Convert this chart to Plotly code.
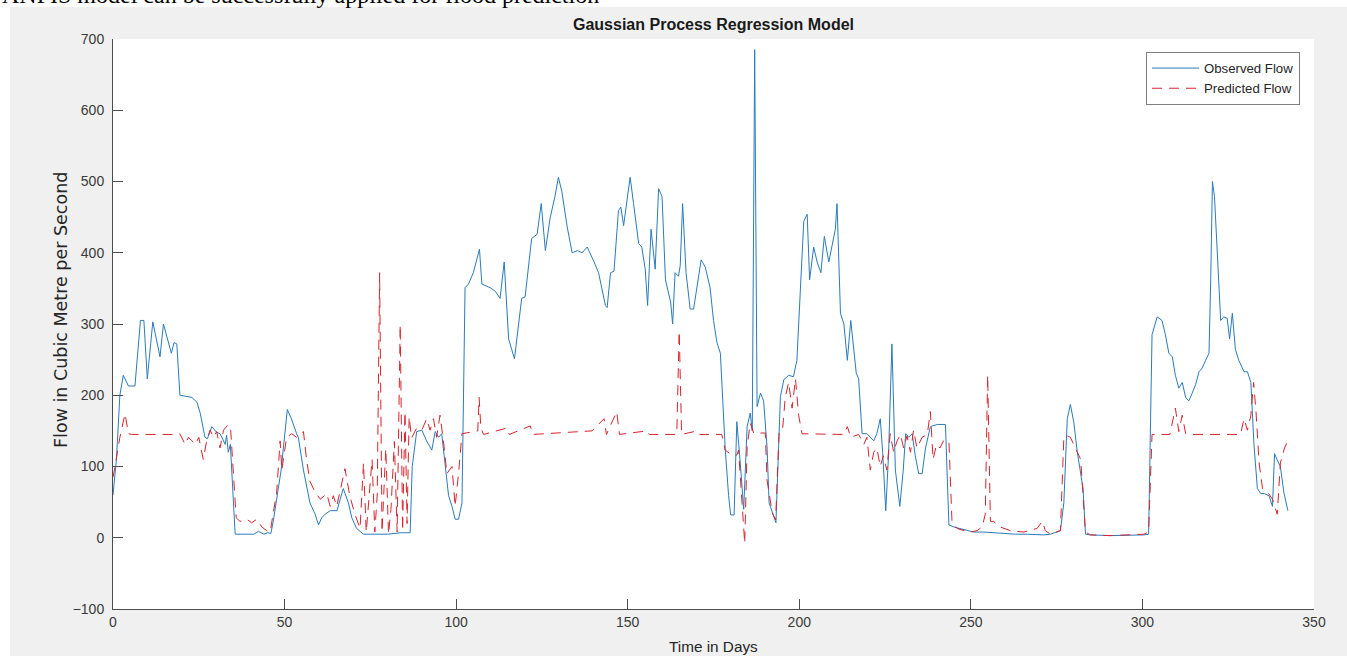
import plotly.graph_objects as go

# ---------------- data ----------------
obs_days = [0, 1, 2, 3, 4.5, 6.4, 8, 9, 10, 11.6, 13.7, 14.7, 17, 17.8, 18.6, 19.5, 23, 24.5,
            25.4, 26.8, 27.5, 28.8, 30.2, 31.2, 32.7, 33.1, 33.6, 34.2, 35.6, 41, 42.4, 44, 45,
            46, 46.7, 48.2, 49, 50.8, 52, 53.5, 54, 55.5, 57.4, 58.9, 59.9, 60.8, 61.8, 63.3,
            65.3, 66.2, 67.1, 68.6, 69.6, 71, 73, 80, 84, 86.6, 87.2, 88.5, 90, 91.4, 92.9,
            93.9, 94.9, 95.8, 96.8, 97.8, 98.8, 99.7, 100.7, 101.7, 102.6, 103.6, 105, 106.8,
            107.5, 109.9, 111.4, 112.8, 114, 115.3, 117, 118.2, 119.1, 120.1, 122, 123.6, 124.8,
            126, 127.4, 128.8, 129.8, 130.8, 132.3, 133.8, 135.3, 136.7, 138.2, 140.2, 141.5,
            143.5, 144, 145, 146, 147.3, 148, 148.8, 150.7, 151.7, 153.2, 154.1, 155.1, 155.8,
            156.8, 158, 159, 160, 161, 162.5, 163.1, 163.8, 164.8, 165.3, 166, 167, 168.2,
            169.2, 170.2, 171.4, 172.6, 174, 175, 176, 177, 177.8, 178.4, 179.4, 180, 181,
            181.8, 182.8, 183.8, 184.8, 185.7, 186.3, 187, 187.7, 188.7, 189.6, 190.6, 191.2,
            192.6, 193.2, 194.5, 195.5, 196.9, 198.3, 199.3, 200.3, 201.3, 202.3, 203, 204.2,
            205.2, 206.3, 207.3, 208.6, 209.6, 210.5, 211, 212, 213, 214, 215, 216, 216.6,
            217.3, 218.3, 219.7, 220.7, 221.7, 222.6, 223.6, 224.3, 225.2, 226, 227, 228,
            229.3, 230.3, 231, 231.9, 232.9, 233.8, 234.8, 235.8, 236.8, 238.2, 240.2, 242.6,
            243.6, 245.1, 247, 249, 250.8, 253.7, 256.6, 263, 266.4, 271.2, 273.2, 276.1,
            277.1, 278.1, 279, 280, 281, 282, 282.7, 283.4, 284.8, 290.6, 295.5, 300.4, 301.8,
            302.8, 304.3, 305.7, 306.7, 307.7, 308.7, 309.6, 310.6, 311.6, 312.6, 313.5, 314.5,
            315.5, 316.5, 317.4, 318.4, 319.4, 319.9, 320.4, 321, 321.8, 322.8, 323.7, 324.7,
            325.4, 326.2, 327.1, 328.1, 329.6, 330.6, 331.6, 332.5, 333.5, 334.5, 335.5, 336.9,
            337.9, 338.5, 339.2, 340.2, 341.2, 342.4]
obs_flow = [60, 110, 200, 228, 213, 213, 305, 305, 223, 303, 254, 300, 259, 274, 272, 200, 197, 190,
            175, 141, 139, 156, 148, 146, 131, 144, 120, 131, 5, 5, 9, 5, 7,
            6, 23, 69, 95, 180, 167, 146, 141, 95, 49, 33, 18, 28, 33, 38,
            38, 54, 69, 49, 28, 13, 5, 5, 7, 7, 100, 149, 151, 136, 123,
            149, 141, 146, 105, 59, 44, 26, 26, 49, 351, 356, 372, 405,
            356, 351, 346, 336, 387, 279, 251, 295, 336, 338, 420, 426, 469,
            403, 449, 479, 506, 486, 438, 400, 403, 400, 408, 387, 372,
            326, 323, 372, 374, 459, 464, 438, 506, 469, 413, 408, 377, 326,
            433, 377, 490, 479, 362, 331, 300, 372, 367, 382, 469, 372, 321,
            321, 351, 390, 380, 351, 305, 274, 259, 172, 126, 59, 32, 32,
            163, 105, 40, 156, 175, 150, 685, 184, 203, 192, 128, 49,
            29, 21, 198, 222, 228, 226, 249, 351, 444, 454, 362, 408,
            387, 372, 423, 387, 413, 433, 469, 315, 300, 249, 305, 259, 231,
            223, 146, 146, 141, 136, 146, 167, 120, 38, 115, 272, 95,
            44, 95, 146, 141, 146, 115, 90, 90, 126, 156, 159, 159,
            18, 15, 13, 10, 8, 8, 7, 5, 5, 4, 5, 10,
            49, 167, 187, 162, 121, 90, 69, 5, 4, 3, 3, 4, 5,
            285, 310, 305, 285, 259, 254, 228, 210, 218, 197, 192, 203,
            215, 233, 238, 249, 259, 362, 500, 479, 392, 305, 310, 308,
            279, 315, 264, 249, 233, 233, 218, 131, 69, 62, 62, 59,
            44, 118, 110, 100, 64, 38]

pred_days = [0, 0.6, 2, 3.5, 4.5, 5.5, 18.6, 19.5, 21, 22, 23, 24, 25, 26.3, 27.3, 28.3, 29.3,
             30.2, 31.2, 32.2, 33.6, 34.3, 35.9, 37, 39, 40.4, 41.9, 43.4, 44.8, 45.8, 47.7,
             48.7, 49.2, 50.6, 52.1, 53.5, 55.5, 56.4, 57.4, 58.9, 60.4, 62.3, 63.3, 64.2,
             65.2, 67.6, 69, 70.5, 72, 73, 73.8, 75.5, 76.3, 77, 77.7, 78.4, 79.5, 80.3, 81,
             82, 82.8, 83.7, 84.4, 85.1, 85.7, 86.3, 87, 87.6, 88.5, 90, 91.4, 92.4, 93.4,
             94.3, 95.3, 96.3, 97.3, 98.8, 99.7, 100.7, 101.7, 106.3, 106.7, 107.2, 108,
             114.8, 115.5, 121.6, 122.3, 139.6, 143.1, 143.8, 146.8, 147.6, 155.6, 156.3,
             164.3, 165, 165.7, 170.3, 171, 177.4, 178.4, 180.4, 181.8, 182.3, 183.3, 184.1,
             184.8, 185.7, 186.7, 190.1, 190.6, 192.1, 193.1, 194.1, 195.1, 195.9, 196.9,
             197.9, 198.9, 199.8, 200.8, 213, 214, 215, 217.3, 218.8, 219.7, 220.7, 221.7,
             222.6, 223.6, 224.5, 225.5, 226.5, 227.5, 228.5, 229.5, 230.4, 231.4, 232.4,
             233.3, 234.3, 235.8, 237.3, 238.2, 239, 240, 241, 242, 243.6, 244.5, 246, 248,
             249.9, 251.8, 253.3, 254.2, 254.9, 255.7, 256.6, 258.6, 261.5, 265.4, 269.3,
             270.8, 271.7, 273.2, 276.1, 277.1, 278.1, 279, 280.5, 282, 283.4, 284.8, 290.6,
             300.4, 301.8, 302.8, 308, 309.6, 310.6, 311.6, 312.6, 314.1, 328.6, 329.6,
             330.6, 331.6, 332.4, 333.1, 334, 335, 336.5, 337.9, 339.3, 340.2, 341.4, 342.4]
pred_flow = [85, 100, 141, 174, 146, 145, 145, 146, 131, 141, 136, 131, 141, 110, 136, 151, 141,
             149, 126, 151, 159, 151, 28, 23, 26, 21, 26, 15, 10, 8, 64,
             136, 95, 141, 146, 141, 149, 110, 79, 64, 54, 62, 44, 59,
             44, 97, 59, 33, 13, 105, 8, 110, 8, 60, 372, 8, 125, 5, 40,
             135, 8, 299, 10, 177, 20, 170, 140, 146, 154, 151, 167, 151, 167,
             141, 172, 136, 90, 100, 44, 90, 146, 150, 197, 154, 145,
             154, 145, 157, 145, 150, 167, 145, 177, 145, 150, 145,
             145, 290, 145, 150, 145, 145, 123, 116, 116, 123, 58, -8,
             128, 161, 147, 147, 81, 35, 25, 147, 150, 197, 218,
             182, 223, 172, 146, 145, 156, 141, 145, 131, 141, 95, 120,
             126, 100, 115, 95, 146, 120, 136, 145, 126, 143, 120,
             151, 126, 141, 145, 177, 110, 131, 126, 136, 136, 23, 13, 10,
             8, 10, 15, 33, 228, 23, 23, 15, 10, 8, 13,
             23, 10, 5, 10, 141, 143, 141, 126, 110, 8, 4, 3,
             5, 8, 145, 145, 182, 149, 172, 146, 145, 145, 167,
             151, 172, 218, 177, 105, 69, 64, 54, 33, 105, 126, 136]

x_ticks = [0, 50, 100, 150, 200, 250, 300, 350]
y_ticks = [-100, 0, 100, 200, 300, 400, 500, 600, 700]

title_text = "Gaussian Process Regression Model"
x_label = "Time in Days"
y_label = "Flow in Cubic Metre per Second"
page_text = "ANFIS model can be successfully applied for flood prediction"

# ---------------- figure ----------------
W, H = 1347, 656
L, R, T, B = 113, 33, 39, 47
PW, PH = W - L - R, H - T - B


def px_x(p):
    return (p - L) / PW


def px_y(p):
    return (H - B - p) / PH


AX = "#4d4d4d"
TXT = "#262626"
FONT = "Liberation Sans, Arial, sans-serif"

fig = go.Figure()
fig.add_trace(go.Scatter(x=obs_days, y=obs_flow, mode="lines", name="Observed Flow",
                         line=dict(color="#2b7bba", width=1)))
fig.add_trace(go.Scatter(x=pred_days, y=pred_flow, mode="lines", name="Predicted Flow",
                         line=dict(color="rgb(215,35,45)", width=1, dash="10px,7px")))

fig.update_layout(
    width=W, height=H, autosize=False,
    margin=dict(l=L, r=R, t=T, b=B, pad=0),
    paper_bgcolor="#f0f0f0", plot_bgcolor="white",
    font=dict(family=FONT, size=13, color=TXT),
    showlegend=True,
    legend=dict(x=px_x(1300), xanchor="right", y=px_y(52), yanchor="top",
                bgcolor="white", bordercolor="#7f7f7f", borderwidth=1,
                font=dict(size=13.2, color=TXT), itemwidth=47, tracegroupgap=0),
    xaxis=dict(range=[0, 350], tickvals=x_ticks, ticks="inside", ticklen=10,
               tickcolor=AX, tickwidth=1, showline=True, linecolor=AX, linewidth=1,
               showgrid=False, zeroline=False, mirror=False,
               tickfont=dict(size=14, color="#3a3a3a")),
    yaxis=dict(range=[-100, 700], tickvals=y_ticks, ticks="inside", ticklen=10,
               tickcolor=AX, tickwidth=1, showline=True, linecolor=AX, linewidth=1,
               showgrid=False, zeroline=False, mirror=False, ticklabelstandoff=5,
               tickfont=dict(size=14, color="#3a3a3a")),
)

# white page strips (top and left) around the grey figure
fig.add_shape(type="rect", xref="paper", yref="paper", x0=px_x(-5), x1=px_x(W + 5),
              y0=px_y(7), y1=px_y(-5), fillcolor="white", line=dict(width=0), layer="below")
fig.add_shape(type="rect", xref="paper", yref="paper", x0=px_x(-5), x1=px_x(10),
              y0=px_y(H + 5), y1=px_y(-5), fillcolor="white", line=dict(width=0), layer="below")

fig.add_annotation(text=page_text, xref="paper", yref="paper", x=px_x(0), y=px_y(10),
                   xanchor="left", yanchor="bottom", showarrow=False,
                   font=dict(family="Liberation Serif, Times New Roman, serif", size=24, color="black"))
fig.add_annotation(text="<b>" + title_text + "</b>", xref="paper", yref="paper",
                   x=0.5, y=px_y(25), xanchor="center", yanchor="middle", showarrow=False,
                   font=dict(size=16, color="#1a1a1a"))
fig.add_annotation(text=x_label, xref="paper", yref="paper", x=0.5, y=px_y(646),
                   xanchor="center", yanchor="middle", showarrow=False,
                   font=dict(size=15.3, color=TXT))
fig.add_annotation(text=y_label, xref="paper", yref="paper", x=px_x(61), y=px_y(310),
                   xanchor="center", yanchor="middle", showarrow=False, textangle=-90,
                   font=dict(family="DejaVu Sans, sans-serif", size=17.5, color=TXT))

fig.write_html("out.html")
